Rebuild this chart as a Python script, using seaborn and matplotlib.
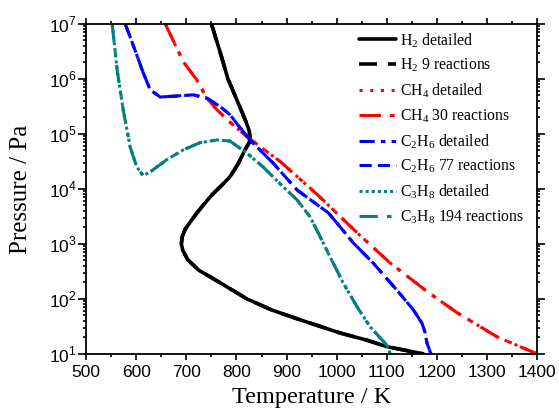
import numpy as np
import pandas as pd
import matplotlib
matplotlib.use("Agg")
import matplotlib.pyplot as plt
import seaborn as sns

# ---- data (temperature in K, log10 of pressure in Pa) ----
h2_T = [750, 767, 783, 797, 809, 819, 825, 827, 826, 817, 803, 787, 770, 752, 735, 720, 708,
        698, 692, 690, 693, 703, 725, 757, 790, 821, 870, 927, 1007, 1060, 1101, 1140, 1173]
h2_logP = [7.0, 6.5, 6.0, 5.7, 5.44, 5.22, 5.07, 4.95, 4.85, 4.71, 4.45, 4.22, 4.06, 3.9, 3.72, 3.55, 3.4,
           3.27, 3.14, 3.0, 2.88, 2.71, 2.52, 2.35, 2.17, 2.0, 1.8, 1.62, 1.38, 1.25, 1.13, 1.06, 1.0]

ch4_T = [658, 694, 721, 741, 761, 785, 817, 850, 887, 961, 1001, 1041, 1107, 1181, 1240, 1320, 1400]
ch4_logP = [7.0, 6.31, 5.98, 5.65, 5.44, 5.23, 4.98, 4.75, 4.5, 3.9, 3.55, 3.2, 2.65, 2.13, 1.75, 1.31, 1.0]

c2h6_T = [578, 588, 614, 628, 648, 682, 714, 741, 767, 787, 803, 827, 873, 921, 984, 1033,
          1073, 1120, 1153, 1170, 1176, 1180, 1188]
c2h6_logP = [7.0, 6.76, 6.11, 5.8, 5.67, 5.69, 5.71, 5.65, 5.5, 5.35, 5.16, 4.89, 4.47, 3.98, 3.56, 3.02,
             2.65, 2.16, 1.8, 1.56, 1.4, 1.2, 1.0]

c3h8_T = [552, 562, 574, 588, 601, 614, 628, 661, 694, 727, 761, 787, 821, 853, 893, 921, 947,
          967, 987, 1013, 1041, 1067, 1100, 1107]
c3h8_logP = [7.0, 6.16, 5.44, 4.76, 4.4, 4.24, 4.31, 4.53, 4.71, 4.84, 4.89, 4.87, 4.65, 4.4, 4.04, 3.8, 3.49,
             3.13, 2.76, 2.29, 1.85, 1.49, 1.16, 1.0]

x_ticks = [500, 600, 700, 800, 900, 1000, 1100, 1200, 1300, 1400]
y_exps = [1, 2, 3, 4, 5, 6, 7]

series = [
    # label, T, logP, color, linestyle, lw
    ("H$_\\mathregular{2}$ detailed", h2_T, h2_logP, "black", "-", 2.6),
    ("H$_\\mathregular{2}$ 9 reactions", h2_T, h2_logP, "black", (0, (5, 3)), 2.6),
    ("CH$_\\mathregular{4}$ detailed", ch4_T, ch4_logP, "#ff0000", (0, (1, 2.5)), 2.2),
    ("CH$_\\mathregular{4}$ 30 reactions", ch4_T, ch4_logP, "#ff0000", (0, (7, 3, 1.5, 3)), 2.2),
    ("C$_\\mathregular{2}$H$_\\mathregular{6}$ detailed", c2h6_T, c2h6_logP, "#0000ff", (0, (5, 2, 1.5, 2, 1.5, 2)), 2.2),
    ("C$_\\mathregular{2}$H$_\\mathregular{6}$ 77 reactions", c2h6_T, c2h6_logP, "#0000ff", (0, (4, 2)), 2.2),
    ("C$_\\mathregular{3}$H$_\\mathregular{8}$ detailed", c3h8_T, c3h8_logP, "#008080", (0, (1, 1)), 2.2),
    ("C$_\\mathregular{3}$H$_\\mathregular{8}$ 194 reactions", c3h8_T, c3h8_logP, "#008080", (0, (6, 3, 1.5, 3)), 2.2),
]

sns.set_style("ticks")
plt.rcParams["font.family"] = ["Liberation Sans", "DejaVu Sans"]
plt.rcParams["text.color"] = "black"
plt.rcParams["xtick.color"] = "black"
plt.rcParams["ytick.color"] = "black"
plt.rcParams["axes.labelcolor"] = "black"

fig = plt.figure(figsize=(5.59, 4.12), dpi=100)
ax = fig.add_axes([0.154, 0.141, 0.807, 0.801])

for label, T, lp, color, ls, lw in series:
    df = pd.DataFrame({"T": T, "P": np.power(10.0, lp)})
    sns.lineplot(data=df, x="T", y="P", sort=False, estimator=None, ax=ax,
                 color=color, linestyle=ls, linewidth=lw, label=label)

ax.set_yscale("log")
ax.set_xlim(500, 1400)
ax.set_ylim(10, 1e7)
ax.set_xticks(x_ticks)
ax.set_xticklabels([str(t) for t in x_ticks])
ax.set_xticks(np.arange(550, 1400, 100), minor=True)
ax.set_yticks([10.0 ** e for e in y_exps])
ax.set_yticklabels(["10$^\\mathregular{%d}$" % e for e in y_exps])
ax.yaxis.set_minor_locator(matplotlib.ticker.LogLocator(base=10, subs=np.arange(2, 10)))
ax.yaxis.set_minor_formatter(matplotlib.ticker.NullFormatter())

ax.tick_params(which="both", direction="out", top=True, right=True, labelsize=12.5, width=1.2,
               colors="black")
ax.tick_params(axis="x", which="major", length=4, pad=4)
ax.tick_params(axis="x", which="minor", length=2.5)
ax.tick_params(axis="y", which="major", length=5.5, pad=1)
ax.tick_params(axis="y", which="minor", length=2.5)
for s in ax.spines.values():
    s.set_linewidth(1.3)
    s.set_color("black")

ax.set_xlabel("Temperature / K", family=["Liberation Serif"], fontsize=17.5, labelpad=5)
ax.set_ylabel("Pressure / Pa", family=["Liberation Serif"], fontsize=18, labelpad=12)

leg = ax.legend(loc="upper right", bbox_to_anchor=(0.985, 1.0), frameon=False,
                prop={"family": "Liberation Serif", "size": 11.3},
                handlelength=2.4, handletextpad=0.2, labelspacing=0.45, borderaxespad=0.05)

fig.savefig("out.png", dpi=100)
